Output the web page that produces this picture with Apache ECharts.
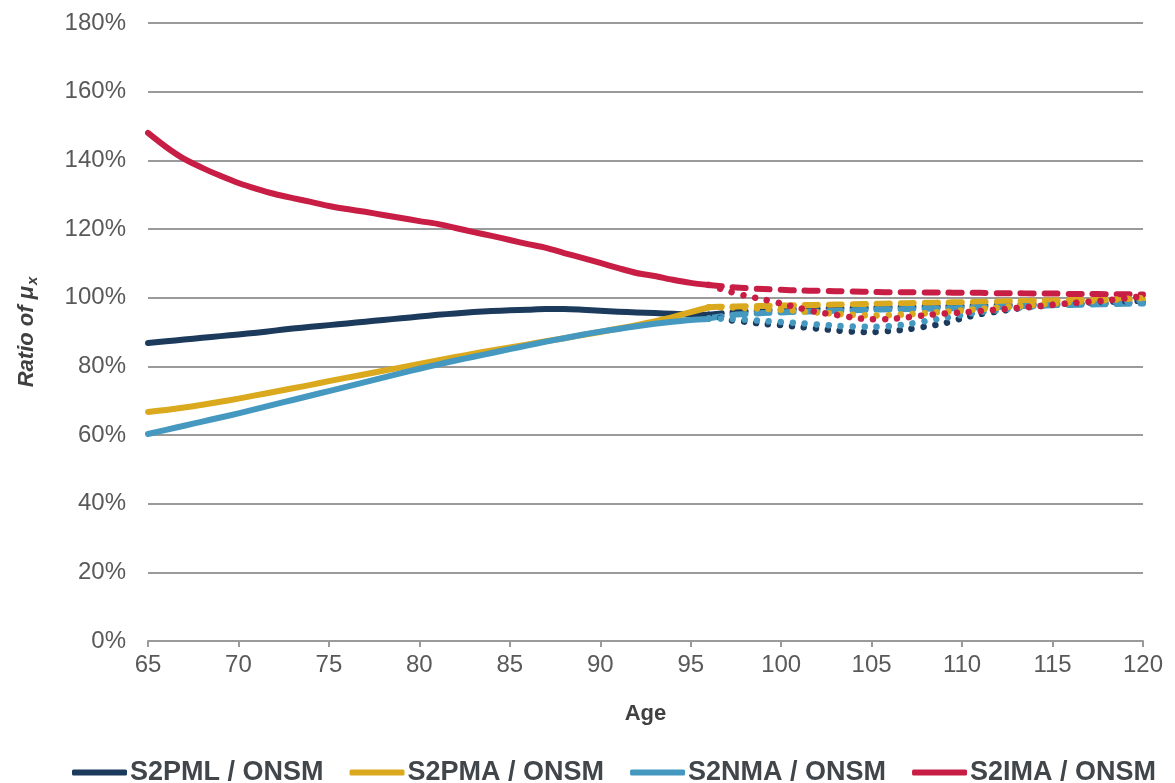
<!DOCTYPE html>
<html>
<head>
<meta charset="utf-8">
<title>Ratio of mortality rates to ONSM</title>
<script src="https://cdn.jsdelivr.net/npm/echarts@6/dist/echarts.min.js"></script>
<style>
  html, body { margin: 0; padding: 0; background: #ffffff; }
  #chart { width: 1175px; height: 783px; }
</style>
</head>
<body>
<div id="chart"></div>
<script>
// Ages for the graduated range (solid) and the extrapolated range (dashed / dotted)
const agesMain = [65,66,67,68,69,70,71,72,73,74,75,76,77,78,79,80,81,82,83,84,85,86,87,88,89,90,91,92,93,94,95,96];
const agesTail = [96,97,98,99,100,101,102,103,104,105,106,107,108,109,110,111,112,113,114,115,116,117,118,119,120];

const seriesNames = ['S2PML / ONSM', 'S2PMA / ONSM', 'S2NMA / ONSM', 'S2IMA / ONSM'];
const seriesColors = ['#1b3a5c', '#dba91d', '#4599c0', '#c81e45'];

// Ratio (%) over ages 65-96
const s2pmlMain = [86.8,87.3,87.8,88.3,88.8,89.3,89.8,90.4,91.0,91.5,92.0,92.5,93.0,93.5,94.0,94.5,95.0,95.4,95.8,96.1,96.3,96.5,96.7,96.7,96.5,96.2,95.9,95.7,95.5,95.3,95.1,95.0];
const s2pmaMain = [66.7,67.3,68.0,68.8,69.7,70.6,71.6,72.6,73.6,74.6,75.7,76.7,77.7,78.7,79.7,80.7,81.7,82.7,83.7,84.6,85.5,86.4,87.3,88.2,89.1,90.0,91.0,92.0,93.1,94.3,95.8,97.2];
const s2nmaMain = [60.3,61.5,62.7,63.9,65.1,66.3,67.6,68.9,70.2,71.5,72.8,74.1,75.4,76.7,78.0,79.3,80.5,81.7,82.8,83.9,85.0,86.1,87.2,88.2,89.2,90.1,90.9,91.7,92.4,93.0,93.5,93.8];
const s2imaMain = [148.0,143.9,140.4,137.8,135.5,133.4,131.7,130.2,129.0,127.9,126.7,125.8,125.0,124.1,123.2,122.3,121.5,120.3,119.1,118.0,116.8,115.6,114.5,113.0,111.6,110.1,108.6,107.2,106.3,105.2,104.3,103.7];

// Ratio (%) over ages 96-120, first extrapolation (dashed)
const s2pmlDashed = [95.0,95.6,96.0,96.3,96.5,96.7,96.8,96.9,97.0,97.1,97.2,97.3,97.4,97.5,97.6,97.7,97.8,97.9,98.0,98.1,98.2,98.3,98.4,98.5,98.6];
const s2pmaDashed = [97.2,97.4,97.5,97.6,97.7,97.8,97.9,98.0,98.1,98.2,98.3,98.4,98.5,98.6,98.7,98.8,98.9,99.0,99.1,99.2,99.3,99.3,99.4,99.4,99.5];
const s2nmaDashed = [94.0,94.8,95.2,95.5,95.7,95.9,96.0,96.2,96.3,96.5,96.6,96.7,96.8,96.9,97.0,97.2,97.3,97.5,97.6,97.8,97.9,98.0,98.1,98.2,98.3];
const s2imaDashed = [103.7,103.2,102.8,102.5,102.3,102.1,102.0,101.9,101.8,101.7,101.6,101.6,101.5,101.5,101.4,101.4,101.3,101.3,101.2,101.2,101.1,101.1,101.0,101.0,100.9];

// Ratio (%) over ages 96-120, second extrapolation (dotted)
const s2pmlDotted = [95.0,93.6,93.0,92.4,92.0,91.5,91.0,90.5,90.1,90.0,90.3,90.8,91.6,92.5,94.0,95.2,96.0,96.8,97.4,97.9,98.3,98.6,98.8,99.0,99.1];
const s2pmaDotted = [97.2,97.2,97.0,96.8,96.5,96.1,95.7,95.3,95.0,94.8,94.9,95.2,95.5,95.9,96.3,96.7,97.1,97.5,97.9,98.3,98.7,99.0,99.3,99.6,99.9];
const s2nmaDotted = [94.0,93.9,93.6,93.2,92.9,92.6,92.2,91.8,91.6,91.5,91.7,92.3,93.2,94.1,95.0,95.8,96.4,97.0,97.5,97.9,98.3,98.6,98.8,99.0,99.1];
const s2imaDotted = [103.7,102.0,100.6,99.5,98.3,97.0,95.8,95.0,94.2,93.7,93.8,94.3,94.9,95.4,95.7,96.1,96.5,97.0,97.4,97.9,98.4,98.8,99.2,99.8,100.4];

const yTicks = { min: 0, max: 180, step: 20 };
const xTicks = { min: 65, max: 120, step: 5 };

const mainSets = [s2pmlMain, s2pmaMain, s2nmaMain, s2imaMain];
const dashedSets = [s2pmlDashed, s2pmaDashed, s2nmaDashed, s2imaDashed];
const dottedSets = [s2pmlDotted, s2pmaDotted, s2nmaDotted, s2imaDotted];

function pairs(ages, vals) {
  return ages.map((a, i) => [a, vals[i]]);
}

function lineSeries(idx, ages, vals, dash, width) {
  return {
    type: 'line',
    name: seriesNames[idx],
    data: pairs(ages, vals),
    showSymbol: false,
    symbol: 'none',
    smooth: 0.3,
    animation: false,
    color: seriesColors[idx],
    lineStyle: {
      color: seriesColors[idx],
      width: width,
      type: dash,
      cap: 'round',
      join: 'round'
    },
    emphasis: { disabled: true }
  };
}

const series = [];
mainSets.forEach((v, i) => series.push(lineSeries(i, agesMain, v, 'solid', 6)));
dashedSets.forEach((v, i) => series.push(lineSeries(i, agesTail, v, [13, 11], 6)));
[0, 2, 1, 3].forEach(i => series.push(lineSeries(i, agesTail, dottedSets[i], [0.01, 12], 6.5)));

const chart = echarts.init(document.getElementById('chart'), null, { renderer: 'canvas' });

chart.setOption({
  backgroundColor: '#ffffff',
  animation: false,
  textStyle: { fontFamily: 'Liberation Sans, Arial, sans-serif' },
  grid: { left: 148, right: 32, top: 23, bottom: 142, containLabel: false },
  legend: {
    data: seriesNames.map((n, i) => ({ name: n, itemStyle: { color: seriesColors[i] } })),
    icon: 'roundRect',
    itemWidth: 55,
    itemHeight: 6,
    itemGap: 26,
    left: 72,
    top: 759,
    padding: 0,
    textStyle: {
      fontFamily: 'Liberation Sans, Arial, sans-serif',
      fontSize: 27,
      fontWeight: 'bold',
      color: '#41464b',
      padding: [0, 0, 0, -2]
    }
  },
  xAxis: {
    type: 'value',
    min: xTicks.min,
    max: xTicks.max,
    interval: xTicks.step,
    name: 'Age',
    nameLocation: 'middle',
    nameGap: 62,
    nameTextStyle: {
      fontFamily: 'Liberation Sans, Arial, sans-serif',
      fontSize: 22,
      fontWeight: 'bold',
      color: '#404040'
    },
    axisLine: { show: true, lineStyle: { color: '#9a9a9a', width: 2 } },
    axisTick: { show: true, length: 6, lineStyle: { color: '#9a9a9a', width: 2 } },
    splitLine: { show: false },
    axisLabel: {
      fontFamily: 'Liberation Sans, Arial, sans-serif',
      fontSize: 24,
      color: '#595959',
      margin: 12
    }
  },
  yAxis: {
    type: 'value',
    min: yTicks.min,
    max: yTicks.max,
    interval: yTicks.step,
    name: 'Ratio of μ{sub|x}',
    nameLocation: 'middle',
    nameRotate: 90,
    nameGap: 108,
    nameTextStyle: {
      fontFamily: 'Liberation Sans, Arial, sans-serif',
      fontSize: 22,
      fontWeight: 'bold',
      fontStyle: 'italic',
      color: '#404040',
      rich: {
        sub: {
          fontFamily: 'Liberation Sans, Arial, sans-serif',
          fontSize: 15,
          fontWeight: 'bold',
          fontStyle: 'italic',
          color: '#404040',
          verticalAlign: 'bottom',
          padding: [12, 0, 0, 1]
        }
      }
    },
    axisLine: { show: false },
    axisTick: { show: false },
    splitLine: { show: true, lineStyle: { color: '#9a9a9a', width: 2 } },
    axisLabel: {
      fontFamily: 'Liberation Sans, Arial, sans-serif',
      fontSize: 24,
      color: '#595959',
      margin: 22,
      formatter: '{value}%'
    }
  },
  series: series
});
</script>
</body>
</html>
